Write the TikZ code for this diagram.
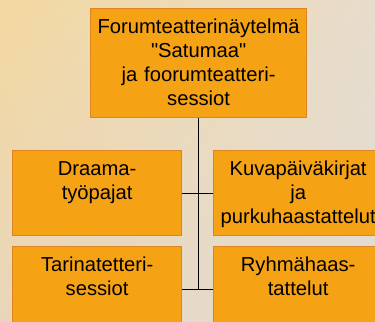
\documentclass[tikz,border=0pt]{standalone}
\usepackage{fontspec}
\usetikzlibrary{shadings}
\newfontfamily\boxfont{Liberation Sans}
\definecolor{boxfill}{HTML}{F5A214}
\definecolor{boxline}{HTML}{DE8420}
\definecolor{bgul}{HTML}{F3D8A0}
\definecolor{bgur}{HTML}{E7DCCC}
\definecolor{bgll}{HTML}{E9D6BA}
\definecolor{bglr}{HTML}{E2DCD6}

\begin{document}
\begin{tikzpicture}[x=1bp,y=-1bp,-]
                \tikzstyle{topbox}=[rectangle,draw=boxline,fill=boxfill,line width=1.3bp,inner sep=0pt,anchor=north west,
                        text width=216bp,align=center,text height=25bp,text depth=84bp,
                        font=\boxfont\fontsize{20.2bp}{23.9bp}\selectfont]
                \tikzstyle{subbox}=[topbox,text width=169bp,text depth=60bp]
                \useasboundingbox (0,0) rectangle (375,322);
                \shade[upper left=bgul,upper right=bgur,lower left=bgll,lower right=bglr] (0,0) rectangle (375,322);
                \node[topbox] (Top) at (90,8) {Forumteatterinäytelmä\\"Satumaa"\\ja foorumteatteri-\\sessiot};
                    \foreach \name/\x/\y/\txt in {Draama/12/150/{Draama-\\työpajat},
                                                  Kuva/213/150/{Kuvapäiväkirjat\\ja\\purkuhaastattelut},
                                                  Tarina/12/246/{Tarinatetteri-\\sessiot},
                                                  Ryhma/213/246/{Ryhmähaas-\\tattelut}}
                        \node[subbox] (B-\name) at (\x,\y) {\txt};
                    \coordinate (Mid) at (B-Tarina.east -| Top.south);
                    \draw[line width=1.2bp] (Top.south) -- (Mid);
                    \foreach \from/\to in {Draama/Kuva, Tarina/Ryhma}
                        \draw[line width=1.2bp] (B-\from.east) -- (B-\to.west);
\end{tikzpicture}
\end{document}
